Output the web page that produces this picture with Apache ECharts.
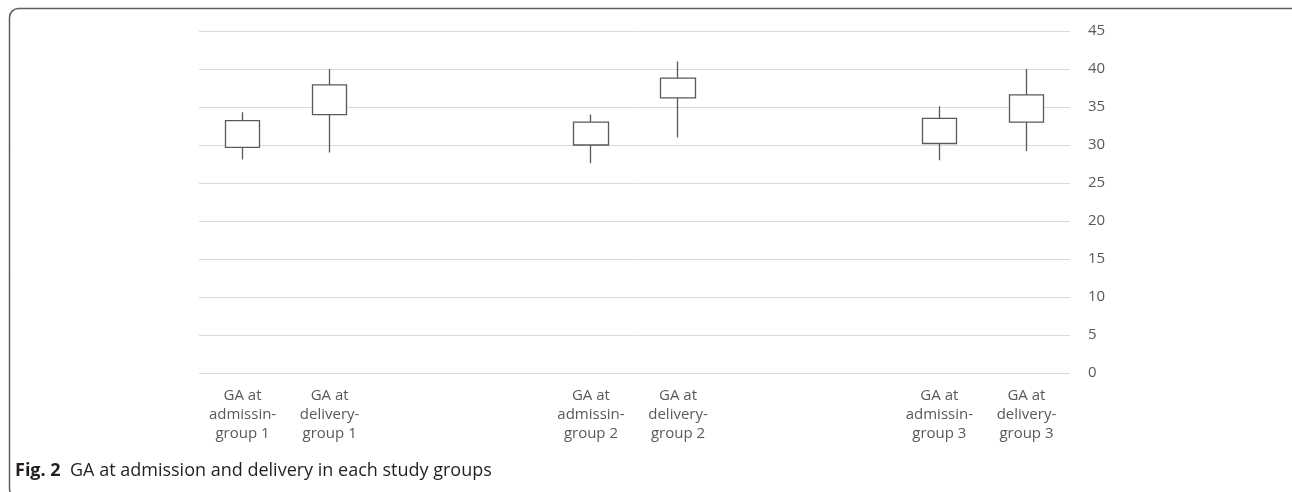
<!DOCTYPE html>
<html>
<head>
<meta charset="utf-8">
<script src="https://cdn.jsdelivr.net/npm/echarts@6/dist/echarts.min.js"></script>
<style>
html,body{margin:0;padding:0;background:#fff;}
#chart{width:1292px;height:492px;}
</style>
</head>
<body>
<div id="chart"></div>
<script>
var categories = [
  'GA at\nadmissin-\ngroup 1', 'GA at\ndelivery-\ngroup 1', '', '',
  'GA at\nadmissin-\ngroup 2', 'GA at\ndelivery-\ngroup 2', '', '',
  'GA at\nadmissin-\ngroup 3', 'GA at\ndelivery-\ngroup 3'
];
var boxLow      = [29.7, 34.0, null, null, 30.0, 36.2, null, null, 30.2, 33.0];
var boxHigh     = [33.2, 37.9, null, null, 33.0, 38.8, null, null, 33.5, 36.6];
var whiskerLow  = [28.1, 29.0, null, null, 27.6, 31.0, null, null, 28.0, 29.2];
var whiskerHigh = [34.3, 40.0, null, null, 34.0, 41.0, null, null, 35.1, 40.0];
var yTicks = [0, 5, 10, 15, 20, 25, 30, 35, 40, 45];

var candleData = categories.map(function (c, i) {
  if (boxLow[i] === null) return '-';
  return [boxLow[i], boxHigh[i], whiskerLow[i], whiskerHigh[i]];
});

var chart = echarts.init(document.getElementById('chart'), null, {renderer: 'canvas'});
chart.setOption({
  animation: false,
  backgroundColor: '#fff',
  title: {
    text: '{b|Fig. 2}  GA at admission and delivery in each study groups',
    left: 10,
    top: 457,
    textStyle: {
      fontFamily: 'Open Sans',
      fontSize: 18,
      fontWeight: 'normal',
      color: '#231f20',
      rich: {
        b: {fontFamily: 'Open Sans', fontSize: 18, fontWeight: 'bold', color: '#231f20'}
      }
    }
  },
  graphic: [{
    type: 'rect',
    shape: {x: 9.5, y: 8.5, width: 1300, height: 489, r: 9},
    style: {fill: null, stroke: '#5f5f5f', lineWidth: 1.5},
    silent: true
  }],
  grid: {left: 199, right: 222, top: 31, bottom: 119},
  xAxis: {
    type: 'category',
    data: categories,
    axisLine: {show: false},
    axisTick: {show: false},
    axisLabel: {
      interval: 0,
      margin: 13,
      fontFamily: 'Open Sans',
      fontSize: 15,
      lineHeight: 19,
      color: '#595959'
    },
    splitLine: {show: false}
  },
  yAxis: {
    type: 'value',
    position: 'right',
    min: yTicks[0],
    max: yTicks[yTicks.length - 1],
    interval: 5,
    axisLine: {show: false},
    axisTick: {show: false},
    axisLabel: {
      margin: 18,
      fontFamily: 'Open Sans',
      fontSize: 15,
      color: '#595959'
    },
    splitLine: {lineStyle: {color: '#d9d9d9', width: 1}}
  },
  series: [{
    type: 'candlestick',
    data: candleData,
    barWidth: 35,
    itemStyle: {
      color: '#ffffff',
      color0: '#ffffff',
      borderColor: '#595959',
      borderColor0: '#595959',
      borderWidth: 1.3
    }
  }]
});
</script>
</body>
</html>
